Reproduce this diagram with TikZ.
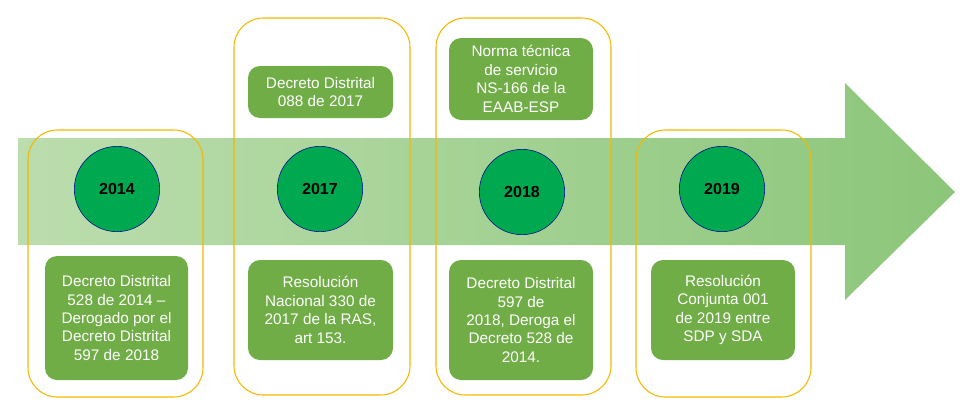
\documentclass[tikz,border=0pt]{standalone}
\usepackage{fontspec}
\setmainfont{Liberation Sans}
\definecolor{boxgreen}{HTML}{70AD47}
\definecolor{yeargreen}{HTML}{00A84F}
\definecolor{frameorange}{HTML}{F5B800}
\definecolor{arrowlight}{HTML}{BCDDAE}
\definecolor{arrowdark}{HTML}{8CC67A}
\tikzset{
  frame/.style={draw=frameorange, line width=0.8pt, rounded corners=22pt},
  yearnode/.style={circle, fill=yeargreen, draw=blue!60!black, line width=0.4pt,
    minimum size=64pt, font=\fontsize{12}{14}\selectfont\bfseries},
  textbox/.style={rounded corners=9pt, fill=boxgreen, text=white, align=center,
    font=\fontsize{11.5}{13.8}\selectfont, inner sep=2pt}
}
\begin{document}
\begin{tikzpicture}[x=0.75pt,y=-0.75pt]
  \useasboundingbox (0,0) rectangle (960,408);
  % big arrow
  \shade[left color=arrowlight, right color=arrowdark]
    (18,138) -- (845,138) -- (845,83) -- (955,192) -- (845,300) -- (845,245) -- (18,245) -- cycle;

  % frames
  \draw[frame] (28,130) rectangle (203,397);
  \draw[frame] (234,18) rectangle (410,395);
  \draw[frame] (436,18) rectangle (611,395);
  \draw[frame] (636,130) rectangle (811,397);

  % years
  \node[yearnode] (y2014) at (117,189) {2014};
  \node[yearnode] (y2017) at (320,189) {2017};
  \node[yearnode] (y2018) at (522,192) {2018};
  \node[yearnode] (y2019) at (722,189) {2019};

  % text boxes
  \fill[boxgreen, rounded corners=9pt] (45,256) rectangle (188,380);
  \node[textbox] (d2014) at (116.5,318) {Decreto Distrital\\528 de 2014 –\\Derogado por el\\Decreto Distrital\\597 de 2018};
  \fill[boxgreen, rounded corners=9pt] (248,66) rectangle (393,118);
  \node[textbox] (d2017a) at (320.5,92) {Decreto Distrital\\088 de 2017};
  \fill[boxgreen, rounded corners=9pt] (248,260) rectangle (393,360);
  \node[textbox] (d2017b) at (320.5,310) {Resolución\\Nacional 330 de\\2017 de la RAS,\\art 153.};
  \fill[boxgreen, rounded corners=9pt] (449,38) rectangle (593,120);
  \node[textbox] (d2018a) at (521,79) {Norma técnica\\de servicio\\NS-166 de la\\EAAB-ESP};
  \fill[boxgreen, rounded corners=9pt] (449,260) rectangle (593,380);
  \node[textbox] (d2018b) at (521,320) {Decreto Distrital\\597 de\\2018, Deroga el\\Decreto 528 de\\2014.};
  \fill[boxgreen, rounded corners=9pt] (651,260) rectangle (795,360);
  \node[textbox] (d2019) at (723,310) {Resolución\\Conjunta 001\\de 2019 entre\\SDP y SDA};
\end{tikzpicture}
\end{document}
